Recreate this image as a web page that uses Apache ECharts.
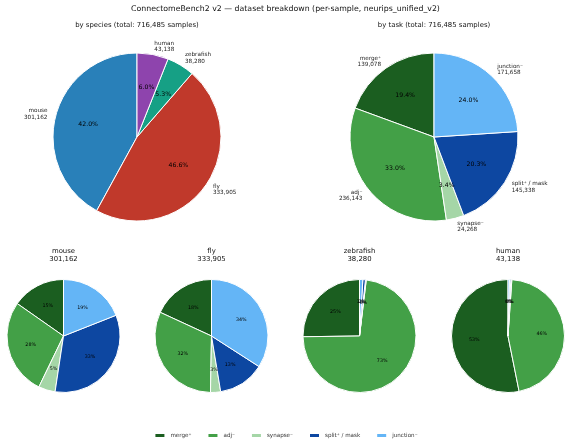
<!DOCTYPE html>
<html>
<head>
<meta charset="utf-8">
<script src="https://cdn.jsdelivr.net/npm/echarts@6/dist/echarts.min.js"></script>
<style>html,body{margin:0;padding:0;background:#fff}#c{width:571px;height:441px}</style>
</head>
<body>
<div id="c"></div>
<script>
// ---- data ----
const species = ['mouse', 'fly', 'zebrafish', 'human'];
const speciesCounts = [301162, 333905, 38280, 43138];
const tasks = ['merge⁺', 'adj⁻', 'synapse⁻', 'split⁺ / mask', 'junction⁻'];
const taskCounts = [139078, 236143, 24268, 145338, 171658];
const mouseByTask = [46000, 83000, 14400, 100500, 57262];
const flyByTask = [60500, 105500, 9650, 44400, 113855];
const zebrafishByTask = [9650, 27900, 90, 280, 360];
const humanByTask = [22928, 19743, 128, 158, 181];

const speciesColors = ['#2980b9', '#c0392b', '#16a085', '#8e44ad'];
const taskColors = ['#1b5e20', '#43a047', '#a5d6a7', '#0d47a1', '#64b5f6'];

const FONT = 'DejaVu Sans';
const fmt = v => v.toLocaleString('en-US');
const sum = a => a.reduce((s, v) => s + v, 0);

const pies = [
  { names: species, values: speciesCounts, colors: speciesColors, cx: 137, cy: 137, r: 84, digits: 1, outside: true, pctSize: 6.2 },
  { names: tasks, values: taskCounts, colors: taskColors, cx: 434, cy: 137, r: 84, digits: 1, outside: true, pctSize: 6.2 },
  { names: tasks, values: mouseByTask, colors: taskColors, cx: 63.5, cy: 336, r: 56.5, digits: 0, outside: false, pctSize: 4.8, title: species[0] + '\n' + fmt(speciesCounts[0]) },
  { names: tasks, values: flyByTask, colors: taskColors, cx: 211.5, cy: 336, r: 56.5, digits: 0, outside: false, pctSize: 4.8, title: species[1] + '\n' + fmt(speciesCounts[1]) },
  { names: tasks, values: zebrafishByTask, colors: taskColors, cx: 359.5, cy: 336, r: 56.5, digits: 0, outside: false, pctSize: 4.8, title: species[2] + '\n' + fmt(speciesCounts[2]) },
  { names: tasks, values: humanByTask, colors: taskColors, cx: 508, cy: 336, r: 56.5, digits: 0, outside: false, pctSize: 4.8, title: species[3] + '\n' + fmt(speciesCounts[3]) }
];

// mid angles (radians), counter-clockwise from 90°
pies.forEach(p => {
  const total = sum(p.values);
  p.total = total;
  let cum = 0;
  p.mid = p.values.map(v => {
    const a = (90 + (cum + v / 2) / total * 360) * Math.PI / 180;
    cum += v;
    return a;
  });
});

const series = [];
// visible slices: small task pies first so legend picks their colors
const order = [2, 3, 4, 5, 0, 1];
order.forEach(k => {
  const p = pies[k];
  series.push({
    type: 'pie', center: [p.cx, p.cy], radius: [0, p.r], clockwise: false, startAngle: 90,
    silent: true, animation: false, avoidLabelOverlap: false,
    label: { show: false }, labelLine: { show: false },
    itemStyle: { borderColor: '#fff', borderWidth: 1 },
    data: p.names.map((n, i) => ({ name: n, value: p.values[i], itemStyle: { color: p.colors[i] } }))
  });
});
function labelSeries(p, kind) {
  return {
    type: 'pie', center: [p.cx, p.cy], radius: [0, p.r], clockwise: false, startAngle: 90,
    silent: true, animation: false, avoidLabelOverlap: false,
    itemStyle: { color: 'rgba(0,0,0,0)', borderWidth: 0 },
    labelLine: { show: false },
    label: {
      show: true, position: 'inside', fontFamily: FONT,
      fontSize: kind === 'pct' ? p.pctSize : 5.7,
      lineHeight: kind === 'pct' ? p.pctSize + 1 : 6.4,
      color: kind === 'pct' ? '#000' : '#222', textBorderWidth: 0,
      formatter: prm => kind === 'pct'
        ? (p.values[prm.dataIndex] / p.total * 100).toFixed(p.digits) + '%'
        : p.names[prm.dataIndex] + '\n' + fmt(p.values[prm.dataIndex])
    },
    labelLayout: prm => {
      const a = p.mid[prm.dataIndex];
      const d = kind === 'pct' ? 0.6 : 1.1;
      const c = Math.cos(a);
      return {
        x: p.cx + d * p.r * c,
        y: p.cy - d * p.r * Math.sin(a),
        align: kind === 'pct' ? 'center' : (c > 0 ? 'left' : 'right'),
        verticalAlign: 'middle'
      };
    },
    data: p.names.map((n, i) => ({ name: n, value: p.values[i] }))
  };
}
pies.forEach(p => {
  series.push(labelSeries(p, 'pct'));
  if (p.outside) series.push(labelSeries(p, 'name'));
});

const graphic = [
  { type: 'text', x: 285.5, y: 9, style: { text: 'ConnectomeBench2 v2 — dataset breakdown (per-sample, neurips_unified_v2)', align: 'center', verticalAlign: 'middle', fontSize: 7.8, fontFamily: FONT, fill: '#111' } },
  { type: 'text', x: 137, y: 25, style: { text: 'by species (total: ' + fmt(sum(speciesCounts)) + ' samples)', align: 'center', verticalAlign: 'middle', fontSize: 6.9, fontFamily: FONT, fill: '#111' } },
  { type: 'text', x: 434, y: 25, style: { text: 'by task (total: ' + fmt(sum(taskCounts)) + ' samples)', align: 'center', verticalAlign: 'middle', fontSize: 6.9, fontFamily: FONT, fill: '#111' } }
];
pies.forEach(p => {
  if (p.title) graphic.push({ type: 'text', x: p.cx, y: 255.5, style: { text: p.title, align: 'center', verticalAlign: 'middle', fontSize: 6.9, lineHeight: 7.6, fontFamily: FONT, fill: '#111' } });
});

const chart = echarts.init(document.getElementById('c'), null, { renderer: 'canvas' });
chart.setOption({
  backgroundColor: '#fff',
  animation: false,
  legend: {
    data: tasks, top: 427, left: 'center', icon: 'rect', itemWidth: 11, itemHeight: 5, itemGap: 15,
    selectedMode: false,
    textStyle: { fontSize: 5.6, fontFamily: FONT, color: '#333' }
  },
  graphic: graphic,
  series: series
});
</script>
</body>
</html>
